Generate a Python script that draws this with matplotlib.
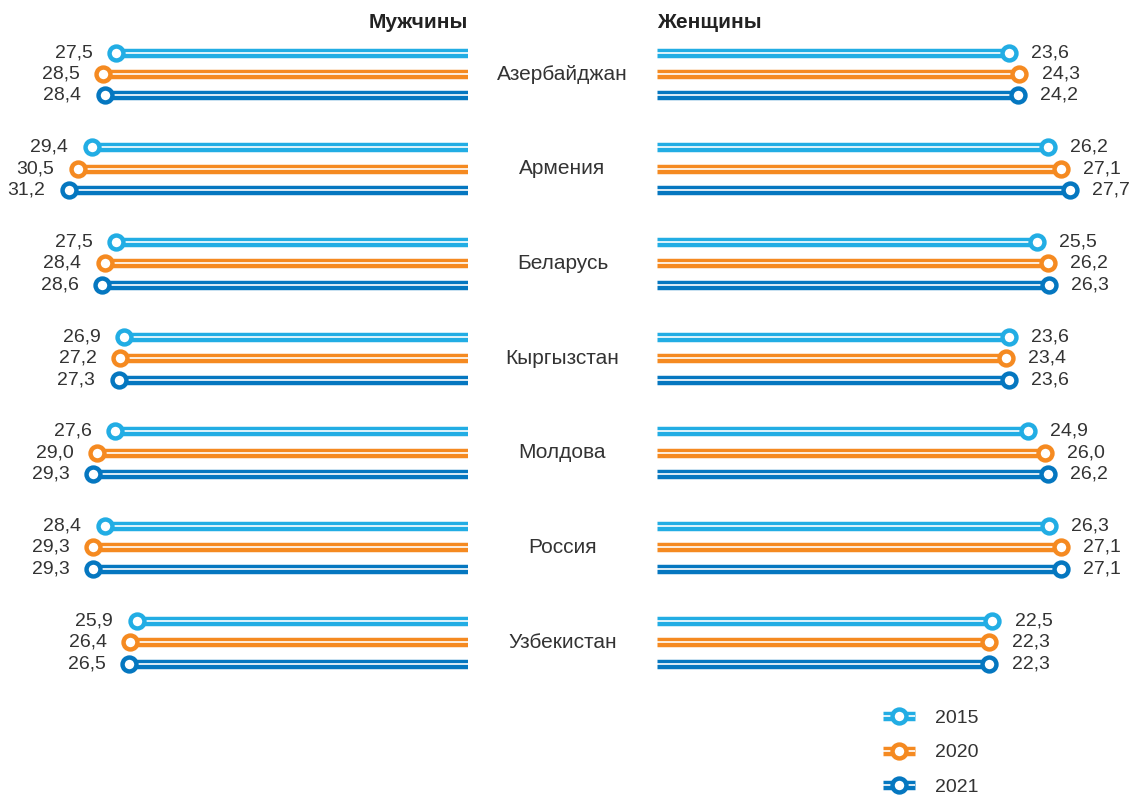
import matplotlib
matplotlib.use('Agg')
import matplotlib.pyplot as plt
from matplotlib.lines import Line2D
import numpy as np

plt.rcParams['font.family'] = ['Liberation Sans', 'DejaVu Sans']

countries = ['Азербайджан', 'Армения', 'Беларусь', 'Кыргызстан', 'Молдова', 'Россия', 'Узбекистан']
years = ['2015', '2020', '2021']
men_2015 = [27.5, 29.4, 27.5, 26.9, 27.6, 28.4, 25.9]
men_2020 = [28.5, 30.5, 28.4, 27.2, 29.0, 29.3, 26.4]
men_2021 = [28.4, 31.2, 28.6, 27.3, 29.3, 29.3, 26.5]
women_2015 = [23.6, 26.2, 25.5, 23.6, 24.9, 26.3, 22.5]
women_2020 = [24.3, 27.1, 26.2, 23.4, 26.0, 27.1, 22.3]
women_2021 = [24.2, 27.7, 26.3, 23.6, 26.2, 27.1, 22.3]

colors = ['#22ade4', '#f58a21', '#0577c0']
txt = '#333333'

W, H = 1131, 797
fig = plt.figure(figsize=(W / 100, H / 100), dpi=100)

# panel geometry (pixels)
left_zero, right_zero = 468, 657
ax_l = fig.add_axes([0, 0, left_zero / W, 1])
ax_r = fig.add_axes([right_zero / W, 0, 1 - right_zero / W, 1])
ax_l.set_xlim(left_zero / 12.79, 0)
ax_r.set_xlim(0, (W - right_zero) / 14.91)

row_px, top_px = 94.67, 74
for ax in (ax_l, ax_r):
    ax.set_ylim((H - top_px) / row_px, -top_px / row_px)
    ax.axis('off')

offs = [-0.227, 0, 0.227]
y = np.arange(len(countries))
bar_lw, gap_lw = 6.8, 1.2


def draw(ax, series, side):
    for k, vals in enumerate(series):
        yy = y + offs[k]
        ax.hlines(yy, 0, vals, color=colors[k], lw=bar_lw, capstyle='butt')
        ax.hlines(yy, 0, vals, color='white', lw=gap_lw, capstyle='butt')
        ax.plot(vals, yy, 'o', ms=10, mfc='white', mec=colors[k], mew=3.2, zorder=5)
        for v, yv in zip(vals, yy):
            s = f'{v:.1f}'.replace('.', ',')
            if side == 'l':
                ax.annotate(s, (v, yv), xytext=(-17, 0), textcoords='offset points',
                            ha='right', va='center', fontsize=14, color=txt)
            else:
                ax.annotate(s, (v, yv), xytext=(16, 0), textcoords='offset points',
                            ha='left', va='center', fontsize=14, color=txt)


draw(ax_l, [men_2015, men_2020, men_2021], 'l')
draw(ax_r, [women_2015, women_2020, women_2021], 'r')

for i, c in enumerate(countries):
    fig.text((left_zero + right_zero) / 2 / W, 1 - (top_px + i * row_px) / H, c,
             ha='center', va='center', fontsize=15, color=txt)

fig.text(left_zero / W, 1 - 23 / H, 'Мужчины', ha='right', va='center',
         fontsize=15, fontweight='bold', color='#222222')
fig.text(right_zero / W, 1 - 23 / H, 'Женщины', ha='left', va='center',
         fontsize=15, fontweight='bold', color='#222222')

handles = []
for c in colors:
    handles.append((Line2D([], [], color=c, lw=bar_lw, solid_capstyle='butt'),
                    Line2D([], [], color='white', lw=gap_lw, solid_capstyle='butt'),
                    Line2D([], [], ls='', marker='o', ms=10, mfc='white', mec=c, mew=3.2)))
fig.legend(handles, years, loc='upper left', bbox_to_anchor=(883 / W, 1 - 709 / H),
           bbox_transform=fig.transFigure, frameon=False, fontsize=14,
           handlelength=1.65, handletextpad=1.05, labelspacing=0.88,
           borderpad=0, borderaxespad=0, labelcolor=txt)

fig.savefig('out.png', dpi=100)
